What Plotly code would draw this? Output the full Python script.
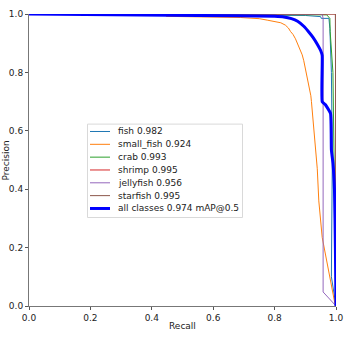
import plotly.graph_objects as go

# ---------------- data ----------------
class_names = ["fish", "small_fish", "crab", "shrimp", "jellyfish", "starfish"]
class_ap = [0.982, 0.924, 0.993, 0.995, 0.956, 0.995]
all_ap = 0.974

fish_recall = [0.0, 0.90, 0.95, 0.952, 0.977, 0.980, 0.985, 0.988, 0.986, 0.985, 1.0]
fish_precision = [1.0, 0.995, 0.991, 0.985, 0.985, 0.95, 0.80, 0.50, 0.25, 0.10, 0.0]

small_fish_recall = [0.0, 0.44, 0.447, 0.55, 0.62, 0.69, 0.72, 0.75, 0.776, 0.80, 0.82, 0.835,
                     0.845, 0.852, 0.86, 0.868, 0.872, 0.878, 0.884, 0.89, 0.895, 0.90, 0.906,
                     0.91, 0.915, 0.918, 0.92, 0.925, 0.93, 0.935, 0.939, 0.944, 0.955, 0.998]
small_fish_precision = [1.0, 1.0, 0.992, 0.991, 0.99, 0.988, 0.986, 0.984, 0.979, 0.975, 0.97, 0.962,
                        0.952, 0.94, 0.93, 0.915, 0.905, 0.895, 0.88, 0.86, 0.84, 0.815, 0.785,
                        0.765, 0.74, 0.72, 0.70, 0.64, 0.60, 0.52, 0.47, 0.36, 0.235, 0.0]

crab_recall = [0.0, 0.91, 0.97, 0.98, 0.981, 0.99, 0.993, 0.996, 1.0]
crab_precision = [1.0, 0.998, 0.997, 0.985, 0.94, 0.80, 0.60, 0.30, 0.0]

shrimp_recall = [0.0, 1.0, 1.0]
shrimp_precision = [1.0, 1.0, 0.0]

jellyfish_recall = [0.0, 0.955, 0.958, 0.958, 1.0]
jellyfish_precision = [1.0, 1.0, 0.985, 0.048, 0.0]

starfish_recall = [0.0, 0.998, 1.0]
starfish_precision = [1.0, 1.0, 0.0]

all_recall = [0.0, 0.55, 0.80, 0.83, 0.855, 0.875, 0.895, 0.91, 0.925, 0.94, 0.95, 0.955, 0.955,
              0.965, 0.982, 0.985, 0.99, 0.995, 0.998, 1.0]
all_precision = [1.0, 0.995, 0.992, 0.99, 0.984, 0.975, 0.958, 0.94, 0.92, 0.895, 0.875, 0.858,
                 0.70, 0.69, 0.66, 0.535, 0.49, 0.40, 0.20, 0.0]

tick_vals = [0.0, 0.2, 0.4, 0.6, 0.8, 1.0]
tick_text = ["0.0", "0.2", "0.4", "0.6", "0.8", "1.0"]

# ---------------- styling ----------------
W, H = 354, 339
ML, MR, MT, MB = 29, 18, 9, 33
PW, PH = W - ML - MR, H - MT - MB
FONT = "DejaVu Sans"
colors = ["#1f77b4", "#ff7f0e", "#2ca02c", "#d62728", "#9467bd", "#8c564b"]

series = [
    (fish_recall, fish_precision),
    (small_fish_recall, small_fish_precision),
    (crab_recall, crab_precision),
    (shrimp_recall, shrimp_precision),
    (jellyfish_recall, jellyfish_precision),
    (starfish_recall, starfish_precision),
]

fig = go.Figure()
for (r, p), c, n, ap in zip(series, colors, class_names, class_ap):
    fig.add_trace(go.Scatter(x=r, y=p, mode="lines", line=dict(color=c, width=1),
                             name=f"{n} {ap:.3f}", showlegend=False))
fig.add_trace(go.Scatter(x=all_recall, y=all_precision, mode="lines",
                         line=dict(color="blue", width=3, shape="spline", smoothing=0.4),
                         name=f"all classes {all_ap:.3f} mAP@0.5", showlegend=False))


def px_to_paper_x(px):
    return (px - ML) / PW


def px_to_paper_y(py):
    return (H - MB - py) / PH


# custom compact legend (matplotlib-like)
labels = [f"{n} {ap:.3f}" for n, ap in zip(class_names, class_ap)] + [f"all classes {all_ap:.3f} mAP@0.5"]
lcolors = colors + ["blue"]
lwidths = [1] * 6 + [3]
box_x0, box_x1, box_y0, box_y1 = 87.5, 242.5, 121, 216
shapes = [dict(type="rect", xref="paper", yref="paper",
               x0=px_to_paper_x(box_x0), x1=px_to_paper_x(box_x1),
               y0=px_to_paper_y(box_y1), y1=px_to_paper_y(box_y0),
               line=dict(color="#d9d9d9", width=1), fillcolor="rgba(255,255,255,0.8)", layer="above")]
annotations = []
row_y0, row_dy = 128.5, 13.05
for i, (lab, c, w) in enumerate(zip(labels, lcolors, lwidths)):
    yy = px_to_paper_y(row_y0 + i * row_dy)
    shapes.append(dict(type="line", xref="paper", yref="paper",
                       x0=px_to_paper_x(90), x1=px_to_paper_x(110), y0=yy, y1=yy,
                       line=dict(color=c, width=w), layer="above"))
    annotations.append(dict(text=lab, xref="paper", yref="paper", x=px_to_paper_x(116),
                            y=yy, xanchor="left", yanchor="middle", showarrow=False,
                            font=dict(family=FONT, size=9, color="#222")))

annotations.append(dict(text="Recall", xref="paper", yref="paper", x=0.5,
                        y=px_to_paper_y(326), xanchor="center", yanchor="middle",
                        showarrow=False, font=dict(family=FONT, size=9, color="#222")))
annotations.append(dict(text="Precision", xref="paper", yref="paper", x=px_to_paper_x(6),
                        y=px_to_paper_y(158), xanchor="center", yanchor="middle",
                        textangle=-90, showarrow=False,
                        font=dict(family=FONT, size=9, color="#222")))

axis_common = dict(range=[0, 1], tickvals=tick_vals, ticktext=tick_text, showgrid=False,
                   zeroline=False, showline=True, linecolor="#777", linewidth=1,
                   ticks="outside", ticklen=3, tickcolor="#555", tickwidth=1,
                   tickfont=dict(family=FONT, size=9, color="#222"))

fig.update_layout(
    width=W, height=H,
    margin=dict(l=ML, r=MR, t=MT, b=MB, pad=0),
    paper_bgcolor="white", plot_bgcolor="white",
    xaxis=dict(**axis_common),
    yaxis=dict(**axis_common),
    shapes=shapes, annotations=annotations,
    showlegend=False,
)

fig.write_html("out.html")
